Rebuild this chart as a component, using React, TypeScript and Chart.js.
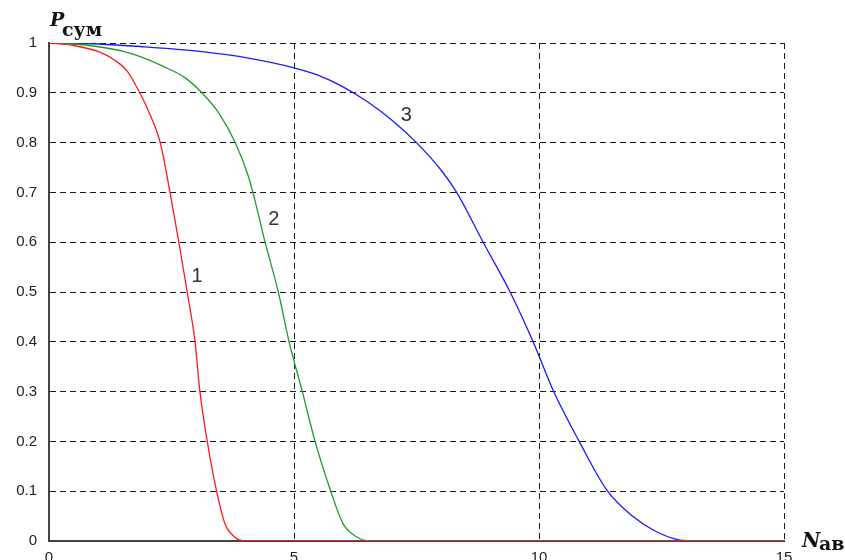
import React, { useEffect, useRef } from 'react';
import { Chart, registerables } from 'chart.js';

Chart.register(...registerables);

// Curve 1 (red)
const curve1X = [0, 0.5, 1.0, 1.35, 1.6, 1.82, 2.0, 2.27, 2.47, 2.65, 2.82, 2.98, 3.08, 3.23, 3.42, 3.59, 3.8, 3.97, 15];
const curve1Y = [1.0, 0.995, 0.983, 0.965, 0.943, 0.906, 0.87, 0.8, 0.7, 0.6, 0.5, 0.4, 0.3, 0.2, 0.1, 0.035, 0.007, 0, 0];

// Curve 2 (green)
const curve2X = [0, 0.5, 0.97, 1.52, 1.93, 2.33, 2.78, 3.12, 3.46, 3.8, 4.07, 4.2, 4.41, 4.68, 4.9, 5.17, 5.43, 5.75, 6.0, 6.25, 6.55, 15];
const curve2Y = [1.0, 0.998, 0.993, 0.983, 0.97, 0.953, 0.93, 0.9, 0.86, 0.8, 0.732, 0.685, 0.6, 0.5, 0.4, 0.3, 0.2, 0.1, 0.035, 0.01, 0, 0];

// Curve 3 (blue)
const curve3X = [0, 1.0, 1.86, 3.08, 4.1, 5.0, 5.5, 6.0, 6.5, 7.0, 7.5, 8.0, 8.32, 8.86, 9.41, 9.88, 10.3, 10.82, 11.4, 11.92, 12.33, 12.81, 13.15, 15];
const curve3Y = [1.0, 0.998, 0.993, 0.983, 0.969, 0.95, 0.935, 0.912, 0.882, 0.845, 0.8, 0.745, 0.7, 0.6, 0.5, 0.4, 0.3, 0.2, 0.1, 0.049, 0.022, 0.003, 0, 0];

const curveLabels = ['1', '2', '3'];
const curveLabelX = [3.02, 4.59, 7.29];
const curveLabelY = [0.532, 0.645, 0.855];

const xMin = 0;
const xMax = 15;
const xStep = 5;
const yMin = 0;
const yMax = 1;
const yStep = 0.1;

const toPoints = (xs: number[], ys: number[]) => xs.map((x, i) => ({ x, y: ys[i] }));

const W = 845;
const H = 580;

export default function App() {
  const ref = useRef<HTMLCanvasElement | null>(null);

  useEffect(() => {
    const canvas = ref.current;
    if (!canvas) return;

    const labelsPlugin = {
      id: 'labelsPlugin',
      afterDraw(chart: any) {
        const ctx = chart.ctx as CanvasRenderingContext2D;
        const xs = chart.scales.x;
        const ys = chart.scales.y;
        ctx.save();
        // curve labels
        ctx.fillStyle = '#333';
        ctx.font = '20px "Liberation Sans", Arial, sans-serif';
        ctx.textAlign = 'center';
        ctx.textBaseline = 'middle';
        curveLabels.forEach((t, i) => {
          ctx.fillText(t, xs.getPixelForValue(curveLabelX[i]), ys.getPixelForValue(curveLabelY[i]));
        });
        // axis titles
        ctx.fillStyle = '#111';
        ctx.textAlign = 'left';
        ctx.textBaseline = 'alphabetic';
        const ca = chart.chartArea;
        ctx.font = 'italic bold 19px "DejaVu Serif", serif';
        ctx.fillText('P', ca.left + 1, ca.top - 17);
        ctx.font = 'bold 19px "DejaVu Serif", serif';
        ctx.fillText('сум', ca.left + 13, ca.top - 7);
        ctx.font = 'italic bold 20px "DejaVu Serif", serif';
        ctx.fillText('N', ca.right + 18, ca.bottom + 6);
        ctx.font = 'bold 19px "DejaVu Serif", serif';
        ctx.fillText('ав', ca.right + 35, ca.bottom + 9);
        ctx.restore();
      },
    };

    const chart = new Chart(canvas, {
      type: 'scatter',
      data: {
        datasets: [
          {
            data: toPoints(curve1X, curve1Y),
            showLine: true,
            borderColor: '#ff1a1a',
            borderWidth: 1.3,
            pointRadius: 0,
            cubicInterpolationMode: 'monotone',
          },
          {
            data: toPoints(curve2X, curve2Y),
            showLine: true,
            borderColor: '#229a2a',
            borderWidth: 1.3,
            pointRadius: 0,
            cubicInterpolationMode: 'monotone',
          },
          {
            data: toPoints(curve3X, curve3Y),
            showLine: true,
            borderColor: '#1a1aff',
            borderWidth: 1.3,
            pointRadius: 0,
            cubicInterpolationMode: 'monotone',
          },
        ],
      },
      options: {
        responsive: false,
        animation: false,
        devicePixelRatio: 1,
        layout: { padding: { top: 43, right: 61, left: 0, bottom: 0 } },
        plugins: { legend: { display: false }, tooltip: { enabled: false } },
        scales: {
          x: {
            type: 'linear',
            min: xMin,
            max: xMax,
            afterFit: (s: any) => { s.height = H - 541; },
            ticks: {
              stepSize: xStep,
              padding: 8,
              color: '#222',
              font: { family: '"Liberation Sans", Arial, sans-serif', size: 15 },
              maxRotation: 0,
            },
            grid: { color: '#1a1a1a', lineWidth: 1, drawTicks: false },
            border: { display: true, color: '#444', width: 2, dash: [6, 4] },
          },
          y: {
            type: 'linear',
            min: yMin,
            max: yMax,
            afterFit: (s: any) => { s.width = 49; },
            ticks: {
              stepSize: yStep,
              padding: 12,
              color: '#222',
              font: { family: '"Liberation Sans", Arial, sans-serif', size: 15 },
              callback: (v: any) => String(Number(Number(v).toFixed(1))),
            },
            grid: { color: '#1a1a1a', lineWidth: 1, drawTicks: false },
            border: { display: true, color: '#444', width: 2, dash: [6, 4] },
          },
        },
      },
      plugins: [labelsPlugin],
    } as any);

    return () => chart.destroy();
  }, []);

  return (
    <div style={{ position: 'fixed', left: 0, top: 0, width: W, height: 560, overflow: 'hidden', background: '#fff' }}>
      <canvas ref={ref} width={W} height={H} style={{ display: 'block', width: W, height: H }} />
    </div>
  );
}
